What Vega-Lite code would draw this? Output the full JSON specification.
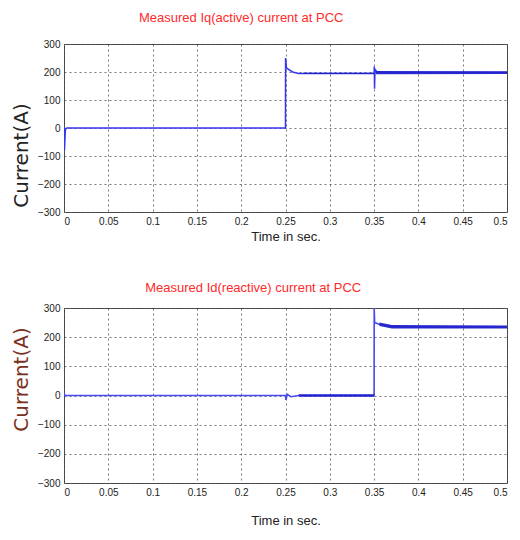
{
  "$schema": "https://vega.github.io/schema/vega-lite/v6.json",
  "background": "white",
  "padding": {"left": 10, "top": 11, "right": 8, "bottom": 5},
  "spacing": 37,
  "config": {
    "view": {"stroke": "#444", "strokeWidth": 1},
    "axis": {
      "domain": false,
      "ticks": false,
      "grid": true,
      "gridColor": "#555",
      "gridDash": [2, 3],
      "gridWidth": 0.8,
      "labelFont": "Liberation Sans",
      "labelFontSize": 10,
      "labelColor": "#222",
      "labelOverlap": false,
      "titleFont": "Liberation Sans",
      "titleFontWeight": "normal",
      "titleColor": "#222"
    },
    "title": {
      "font": "Liberation Sans",
      "fontSize": 13,
      "fontWeight": "normal",
      "color": "#ff2a2a",
      "anchor": "middle",
      "frame": "bounds"
    }
  },
  "datasets": {
    "iq": [
      {"t": 0, "v": 0},
      {"t": 0.0005, "v": -80},
      {"t": 0.0015, "v": -6},
      {"t": 0.003, "v": 0},
      {"t": 0.25, "v": 0},
      {"t": 0.2501, "v": 250},
      {"t": 0.251, "v": 216},
      {"t": 0.253, "v": 210},
      {"t": 0.258, "v": 200},
      {"t": 0.265, "v": 195},
      {"t": 0.35, "v": 195},
      {"t": 0.3502, "v": 220},
      {"t": 0.3505, "v": 140},
      {"t": 0.351, "v": 210},
      {"t": 0.353, "v": 201},
      {"t": 0.36, "v": 198},
      {"t": 0.5, "v": 198}
    ],
    "iqband": [
      {"seg": "a", "t": 0.27, "lo": 193, "hi": 197},
      {"seg": "a", "t": 0.35, "lo": 193, "hi": 197},
      {"seg": "b", "t": 0.352, "lo": 192, "hi": 204},
      {"seg": "b", "t": 0.5, "lo": 193, "hi": 203}
    ],
    "id": [
      {"t": 0, "v": 10},
      {"t": 0.001, "v": 0},
      {"t": 0.25, "v": 0},
      {"t": 0.2505, "v": -15},
      {"t": 0.252, "v": 4},
      {"t": 0.256, "v": -4},
      {"t": 0.265, "v": 0},
      {"t": 0.35, "v": 0},
      {"t": 0.3501, "v": 300},
      {"t": 0.3506, "v": 250},
      {"t": 0.355, "v": 245},
      {"t": 0.365, "v": 238},
      {"t": 0.375, "v": 235},
      {"t": 0.5, "v": 235}
    ],
    "idband": [
      {"seg": "a", "t": 0.265, "lo": -4, "hi": 4},
      {"seg": "a", "t": 0.35, "lo": -4, "hi": 4},
      {"seg": "b", "t": 0.356, "lo": 238, "hi": 250},
      {"seg": "b", "t": 0.37, "lo": 230, "hi": 242},
      {"seg": "b", "t": 0.5, "lo": 230, "hi": 240}
    ]
  },
  "vconcat": [
    {
      "title": {"text": "Measured Iq(active) current at PCC", "offset": 14, "dx": -18},
      "width": 443,
      "height": 168,
      "layer": [
        {
          "data": {"name": "iq"},
          "mark": {"type": "line", "color": "#3535f0", "strokeWidth": 1.5, "clip": true},
          "encoding": {
            "x": {
              "field": "t", "type": "quantitative",
              "scale": {"domain": [0, 0.5], "nice": false},
              "axis": {"values": [0, 0.05, 0.1, 0.15, 0.2, 0.25, 0.3, 0.35, 0.4, 0.45, 0.5], "format": ".2~f", "title": "Time in sec.", "titleFontSize": 13, "titlePadding": 4, "labelPadding": 4}
            },
            "y": {
              "field": "v", "type": "quantitative",
              "scale": {"domain": [-300, 300], "nice": false},
              "axis": {"values": [-300, -200, -100, 0, 100, 200, 300], "title": "Current(A)", "titleFont": "DejaVu Sans", "titleFontSize": 20, "titleColor": "#222", "titlePadding": 6, "titleY": 111, "labelPadding": 4}
            }
          }
        },
        {
          "data": {"name": "iqband"},
          "mark": {"type": "area", "color": "#2222cc", "opacity": 0.95},
          "encoding": {
            "x": {
              "field": "t", "type": "quantitative",
              "scale": {"domain": [0, 0.5], "nice": false},
              "axis": {"values": [0, 0.05, 0.1, 0.15, 0.2, 0.25, 0.3, 0.35, 0.4, 0.45, 0.5], "format": ".2~f", "title": "Time in sec.", "titleFontSize": 13, "titlePadding": 4, "labelPadding": 4}
            },
            "y": {
              "field": "lo", "type": "quantitative",
              "scale": {"domain": [-300, 300], "nice": false},
              "axis": {"values": [-300, -200, -100, 0, 100, 200, 300], "title": "Current(A)", "titleFont": "DejaVu Sans", "titleFontSize": 20, "titleColor": "#222", "titlePadding": 6, "titleY": 111, "labelPadding": 4}
            },
            "y2": {"field": "hi"},
            "detail": {"field": "seg"}
          }
        }
      ]
    },
    {
      "title": {"text": "Measured Id(reactive) current at PCC", "offset": 8, "dx": -6},
      "width": 443,
      "height": 175,
      "layer": [
        {
          "data": {"name": "id"},
          "mark": {"type": "line", "color": "#4a4af5", "strokeWidth": 1.6, "clip": true},
          "encoding": {
            "x": {
              "field": "t", "type": "quantitative",
              "scale": {"domain": [0, 0.5], "nice": false},
              "axis": {"values": [0, 0.05, 0.1, 0.15, 0.2, 0.25, 0.3, 0.35, 0.4, 0.45, 0.5], "format": ".2~f", "title": "Time in sec.", "titleFontSize": 13, "titlePadding": 17, "labelPadding": 4}
            },
            "y": {
              "field": "v", "type": "quantitative",
              "scale": {"domain": [-300, 300], "nice": false},
              "axis": {"values": [-300, -200, -100, 0, 100, 200, 300], "title": "Current(A)", "titleFont": "DejaVu Sans", "titleFontSize": 20, "titleColor": "#7a3020", "titlePadding": 6, "titleY": 71, "labelPadding": 4}
            }
          }
        },
        {
          "data": {"name": "idband"},
          "mark": {"type": "area", "color": "#2222cc", "opacity": 0.95},
          "encoding": {
            "x": {
              "field": "t", "type": "quantitative",
              "scale": {"domain": [0, 0.5], "nice": false},
              "axis": {"values": [0, 0.05, 0.1, 0.15, 0.2, 0.25, 0.3, 0.35, 0.4, 0.45, 0.5], "format": ".2~f", "title": "Time in sec.", "titleFontSize": 13, "titlePadding": 17, "labelPadding": 4}
            },
            "y": {
              "field": "lo", "type": "quantitative",
              "scale": {"domain": [-300, 300], "nice": false},
              "axis": {"values": [-300, -200, -100, 0, 100, 200, 300], "title": "Current(A)", "titleFont": "DejaVu Sans", "titleFontSize": 20, "titleColor": "#7a3020", "titlePadding": 6, "titleY": 71, "labelPadding": 4}
            },
            "y2": {"field": "hi"},
            "detail": {"field": "seg"}
          }
        }
      ]
    }
  ]
}
